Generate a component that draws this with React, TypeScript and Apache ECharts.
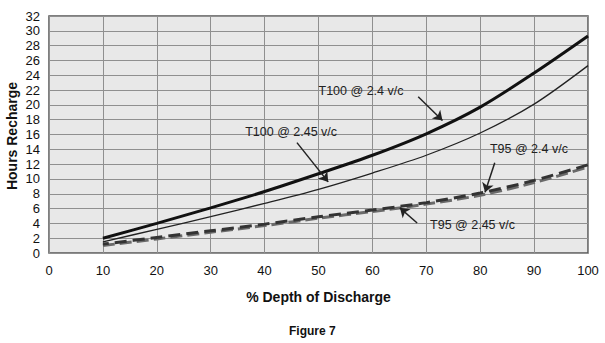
import React, { useEffect, useRef } from "react";
import * as echarts from "echarts";

const depth = [10, 20, 30, 40, 50, 60, 70, 80, 90, 100];
const t100At240 = [2.0, 4.0, 6.1, 8.3, 10.7, 13.2, 16.1, 19.7, 24.3, 29.3];
const t100At245 = [1.5, 3.2, 4.9, 6.7, 8.6, 10.8, 13.2, 16.2, 20.1, 25.3];
const t95At240 = [1.2, 2.1, 3.0, 3.9, 4.9, 5.8, 6.8, 8.1, 9.8, 11.9];
const t95At245 = [1.0, 1.9, 2.8, 3.7, 4.7, 5.6, 6.6, 7.8, 9.5, 11.6];

const yTitle = "Hours Recharge";
const annotationLabels = ["T100 @ 2.4 v/c", "T100 @ 2.45 v/c", "T95 @ 2.4 v/c", "T95 @ 2.45 v/c"];
const annotationTextAt = [[50, 21.9], [36.4, 16.4], [81.8, 14.0], [70.7, 3.8]];
const annotationArrowFrom = [[68.5, 21.1], [46.0, 14.9], [82.7, 12.2], [68.3, 4.05]];
const annotationArrowTo = [[73, 17.9], [51.8, 9.6], [80.9, 8.2], [65.1, 6.1]];

const pairs = (ys: number[]) => depth.map((x, i) => [x, ys[i]]);

export default function App() {
  const ref = useRef<HTMLDivElement>(null);
  useEffect(() => {
    const chart = echarts.init(ref.current!, null, { renderer: "svg" });
    const font = "Arial, 'Liberation Sans', sans-serif";
    chart.setOption({
      animation: false,
      backgroundColor: "#ffffff",
      title: {
        text: "Figure 7",
        left: 284,
        top: 320,
        textStyle: { fontFamily: font, fontSize: 12, fontWeight: "bold", color: "#111" },
      },
      graphic: [
        {
          type: "text",
          x: 12,
          y: 136,
          rotation: Math.PI / 2,
          style: {
            text: yTitle,
            fontFamily: font,
            fontSize: 14,
            fontWeight: "bold",
            fill: "#111",
            textAlign: "center",
            textVerticalAlign: "middle",
          },
        },
      ],
      grid: {
        left: 49,
        right: 17,
        top: 16,
        bottom: 90,
        containLabel: false,
        outerBoundsMode: "none",
        show: true,
        backgroundColor: "#e8e8e8",
        borderColor: "#555",
        borderWidth: 1.5,
      },
      xAxis: {
        type: "value",
        min: 0,
        max: 100,
        interval: 10,
        name: "% Depth of Discharge",
        nameLocation: "middle",
        nameGap: 37,
        nameTextStyle: { fontFamily: font, fontSize: 14, fontWeight: "bold", color: "#111" },
        axisLine: { show: false },
        axisTick: { show: false },
        axisLabel: { fontFamily: font, fontSize: 13, color: "#111", margin: 11 },
        splitLine: { show: true, lineStyle: { color: "#8f8f8f", width: 1 } },
      },
      yAxis: {
        type: "value",
        min: 0,
        max: 32,
        interval: 2,
        axisLine: { show: false },
        axisTick: { show: false },
        axisLabel: { fontFamily: font, fontSize: 13, color: "#111", margin: 9 },
        splitLine: { show: true, lineStyle: { color: "#8f8f8f", width: 1 } },
      },
      series: [
        {
          type: "line",
          data: pairs(t100At240),
          smooth: 0.3,
          showSymbol: false,
          lineStyle: { color: "#111", width: 3 },
          markLine: {
            silent: true,
            symbol: ["none", "arrow"],
            symbolSize: 9,
            lineStyle: { color: "#222", width: 1.5, type: "solid" },
            label: { show: false },
            data: annotationArrowFrom.map((f, i) => [
              { coord: f },
              { coord: annotationArrowTo[i] },
            ]),
          },
          markPoint: {
            silent: true,
            symbol: "circle",
            symbolSize: 0,
            label: {
              show: true,
              position: "right",
              distance: 0,
              fontFamily: font,
              fontSize: 12.5,
              color: "#222",
              formatter: (p: any) => p.name,
            },
            data: annotationTextAt.map((c, i) => ({ name: annotationLabels[i], coord: c })),
          },
        },
        {
          type: "line",
          data: pairs(t100At245),
          smooth: 0.3,
          showSymbol: false,
          lineStyle: { color: "#222", width: 1.3 },
        },
        {
          type: "line",
          data: pairs(t95At245),
          smooth: 0.3,
          showSymbol: false,
          lineStyle: { color: "#6a6a6a", width: 3, type: [12, 5] },
        },
        {
          type: "line",
          data: pairs(t95At240),
          smooth: 0.3,
          showSymbol: false,
          lineStyle: { color: "#333", width: 3, type: [12, 6], dashOffset: 6 },
        },
      ],
    });
    return () => chart.dispose();
  }, []);
  return (
    <div
      ref={ref}
      style={{ position: "fixed", left: 0, top: 0, width: 605, height: 343 }}
    />
  );
}
